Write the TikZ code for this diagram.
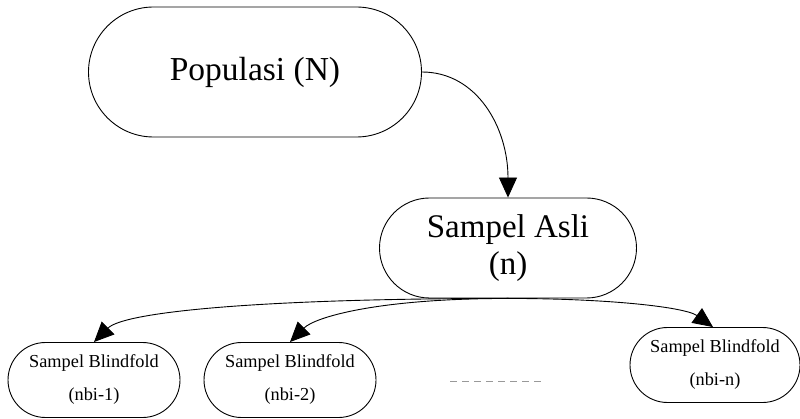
\documentclass[tikz,border=0pt]{standalone}
\usepackage{fontspec}
\setmainfont{Liberation Serif}
\usetikzlibrary{arrows.meta}

\tikzset{
  pill/.style={draw=black, line width=0.9pt, fill=white, rectangle,
    rounded corners=#1, inner sep=0pt, align=center},
  link/.style={line width=0.9pt, -{Triangle[length=20pt, width=18pt]}},
  gap/.style={draw=gray!80, line width=1pt, dash pattern=on 7pt off 5pt}
}

\begin{document}
\begin{tikzpicture}[x=1pt, y=-1pt]
  \useasboundingbox (0,0) rectangle (800,419);

  % main boxes
  \node[pill=65pt, minimum width=333pt, minimum height=130pt,
        font=\fontsize{33.5}{38}\selectfont] (pop) at (255,72) {Populasi (N)};
  \node[pill=50pt, minimum width=257pt, minimum height=100pt,
        font=\fontsize{33}{37}\selectfont] (asli) at (508,248) {Sampel Asli\\(n)};

  % blindfold samples
  \node[pill=37.5pt, minimum width=172pt, minimum height=75pt,
        font=\fontsize{18.3}{33}\selectfont] (b1) at (94,380) {Sampel Blindfold\\(nbi-1)};
  \node[pill=37.5pt, minimum width=172pt, minimum height=75pt,
        font=\fontsize{18.3}{33}\selectfont] (b2) at (290,380) {Sampel Blindfold\\(nbi-2)};
  \node[pill=37.5pt, minimum width=170pt, minimum height=75pt,
        font=\fontsize{18.3}{33}\selectfont] (bn) at (715,365) {Sampel Blindfold\\(nbi-n)};

  % ellipsis between the samples
  \coordinate (gapA) at (450,381);
  \coordinate (gapB) at (542,381);
  \draw[gap] (gapA) -- (gapB);

  % connectors
  \draw[link] (pop.east) .. controls ([xshift=55pt]pop.east) and ([yshift=70pt]asli.north) .. (asli.north);
  \draw[link] (asli.south) .. controls ([xshift=-250pt]asli.south) and ([xshift=30pt,yshift=30pt]b1.north) .. (b1.north);
  \draw[link] (asli.south) .. controls ([xshift=-130pt]asli.south) and ([xshift=25pt,yshift=25pt]b2.north) .. (b2.north);
  \draw[link] (asli.south) .. controls ([xshift=100pt]asli.south) and ([xshift=-30pt,yshift=20pt]bn.north) .. ([xshift=-2pt]bn.north);
\end{tikzpicture}
\end{document}
